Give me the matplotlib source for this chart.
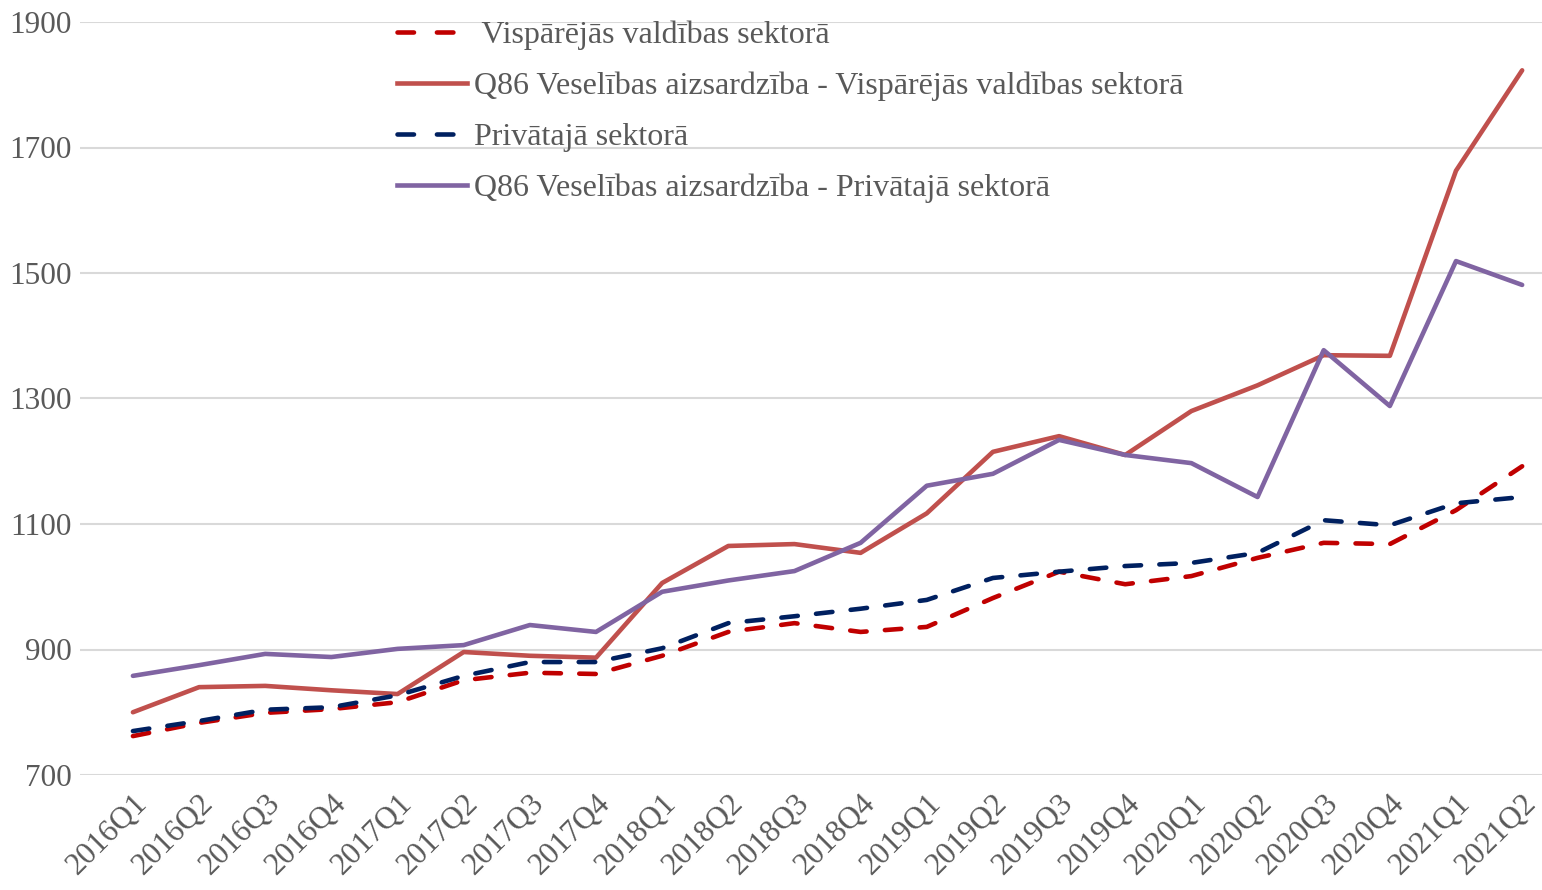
import matplotlib.pyplot as plt
from matplotlib.lines import Line2D

# --- DATA ---
quarters = ['2016Q1', '2016Q2', '2016Q3', '2016Q4',
            '2017Q1', '2017Q2', '2017Q3', '2017Q4',
            '2018Q1', '2018Q2', '2018Q3', '2018Q4',
            '2019Q1', '2019Q2', '2019Q3', '2019Q4',
            '2020Q1', '2020Q2', '2020Q3', '2020Q4',
            '2021Q1', '2021Q2']

gov = [762, 783, 799, 805, 816, 851, 863, 861, 890, 928, 942, 928,
       936, 982, 1024, 1004, 1017, 1046, 1070, 1068, 1122, 1192]
q86_gov = [800, 840, 842, 835, 829, 896, 890, 887, 1006, 1065, 1068, 1054,
           1117, 1215, 1240, 1210, 1280, 1321, 1369, 1368, 1663, 1823]
private = [770, 786, 804, 808, 827, 858, 880, 880, 902, 942, 953, 965,
           979, 1014, 1024, 1033, 1038, 1054, 1106, 1098, 1133, 1143]
q86_private = [858, 875, 893, 888, 901, 907, 939, 928, 992, 1010, 1025, 1070,
               1161, 1180, 1234, 1210, 1197, 1143, 1377, 1288, 1519, 1481]

labels = [' Vispārējās valdības sektorā',
          'Q86 Veselības aizsardzība - Vispārējās valdības sektorā',
          'Privātajā sektorā',
          'Q86 Veselības aizsardzība - Privātajā sektorā']
colors = ['#C00000', '#C0504D', '#002060', '#8064A2']

# --- STYLE ---
plt.rcParams['font.family'] = ['Liberation Serif', 'DejaVu Serif']
text_color = '#595959'
lw = 3.3
dash = (3.6, 4.0)

fig = plt.figure(figsize=(15.42, 8.90), dpi=100)
ax = fig.add_axes([80 / 1542, 1 - 775 / 890, 1462 / 1542, (775 - 22) / 890])

x = list(range(len(quarters)))
ax.plot(x, gov, color=colors[0], lw=lw, dashes=dash, dash_capstyle='round')
ax.plot(x, q86_gov, color=colors[1], lw=lw, solid_capstyle='round')
ax.plot(x, private, color=colors[2], lw=lw, dashes=dash, dash_capstyle='round')
ax.plot(x, q86_private, color=colors[3], lw=lw, solid_capstyle='round')

ax.set_ylim(700, 1900)
ax.set_yticks(range(700, 1901, 200))
ax.set_xlim(-0.8, 21.3)
ax.set_xticks(x)
ax.set_xticklabels(quarters, rotation=45, ha='right', rotation_mode='anchor')

ax.grid(axis='y', color='#D9D9D9', lw=1.5)
ax.set_axisbelow(True)
for s in ax.spines.values():
    s.set_visible(False)
ax.tick_params(axis='both', length=0, labelsize=22.5, colors=text_color, pad=6)
ax.tick_params(axis='x', pad=10)

# legend handles: two dashes per dashed entry, like the original
leg_dash = (3.6, 5.0)
handles = [
    Line2D([], [], color=colors[0], lw=lw, dashes=leg_dash, dash_capstyle='round'),
    Line2D([], [], color=colors[1], lw=lw),
    Line2D([], [], color=colors[2], lw=lw, dashes=leg_dash, dash_capstyle='round'),
    Line2D([], [], color=colors[3], lw=lw),
]
leg = fig.legend(handles, labels, loc='upper left', bbox_to_anchor=(384 / 1542, 1 - 8 / 890),
                 frameon=False, fontsize=23, handlelength=2.2, handletextpad=0.22,
                 labelspacing=0.67, borderaxespad=0)
for t in leg.get_texts():
    t.set_color(text_color)

fig.savefig('out.png', dpi=100)
